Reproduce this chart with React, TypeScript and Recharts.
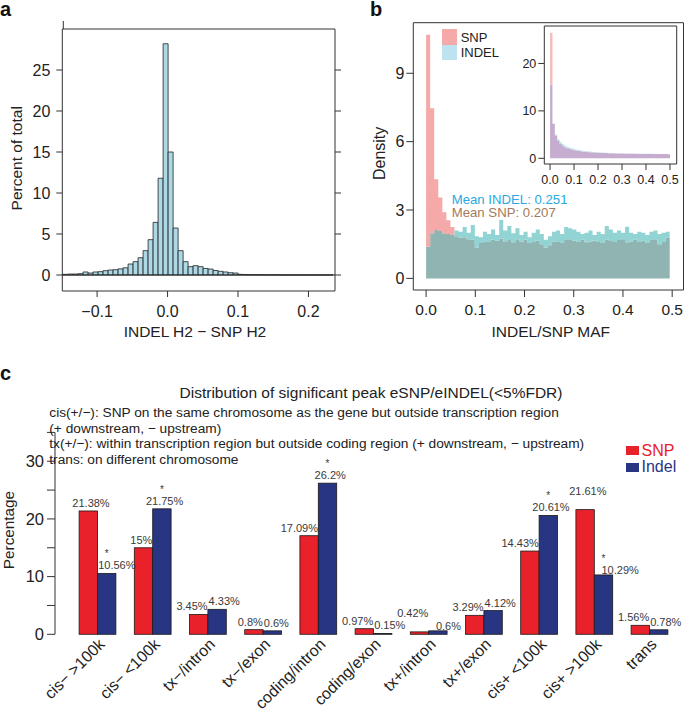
import React from 'react';
import { BarChart, Bar, XAxis, YAxis, ReferenceLine, ReferenceArea, AreaChart, Area, Legend } from 'recharts';

const FONT = '"Liberation Sans", Arial, Helvetica, sans-serif';

// ---------- Panel a: INDEL H2 - SNP H2 histogram ----------
const H2_BIN_WIDTH = 0.0071;
const H2_FIRST_EDGE = -0.1554;
const h2DiffPercent = [
  0.08, 0.08, 0.12, 0.12, 0.16, 0.37, 0.24, 0.37, 0.41, 0.53, 0.61, 0.65, 0.75, 0.88, 1.34, 1.63, 2.11, 2.97, 4.31, 6.42, 11.8,
  28.2, 15.0, 5.73, 2.97, 1.63, 1.02, 1.14, 1.02, 0.8, 0.73, 0.55, 0.45, 0.37, 0.28, 0.24, 0.08, 0.05, 0.04, 0.03, 0.03,
  0.02, 0.02, 0.02, 0.02, 0.01, 0.01, 0.02, 0.01, 0.01, 0.01, 0.01, 0.02, 0.01, 0.01,
];
const h2Ticks = [-0.1, 0, 0.1, 0.2];
const pctTicks = [0, 5, 10, 15, 20, 25];

// ---------- Panel b: MAF densities ----------
const MAF_BIN_WIDTH = 0.00825;
const snpMafDensity = [
  10.69, 7.47, 4.35, 3.55, 2.9, 2.55, 2.25, 1.85, 1.78, 1.8, 1.72, 1.7, 1.35, 1.55, 1.62, 1.6, 1.7, 1.65, 1.75, 1.6,
  1.68, 1.58, 1.72, 1.62, 1.7, 1.55, 1.6, 1.66, 1.5, 1.35, 1.45, 1.62, 1.6, 1.55, 1.68, 1.72, 1.65, 1.6, 1.7, 1.58,
  1.62, 1.66, 1.6, 1.55, 1.7, 1.64, 1.6, 1.68, 1.72, 1.58, 1.62, 1.7, 1.6, 1.65, 1.55, 1.68, 1.72, 1.5, 1.6, 1.78,
];
const indelMafDensity = [
  1.39, 1.98, 2.12, 2.08, 1.98, 1.95, 1.9, 2.1, 2.05, 2.25, 2.0, 2.34, 1.85, 1.8, 2.05, 1.95, 2.15, 1.9, 2.56, 2.1,
  2.3, 1.98, 2.2, 1.9, 2.05, 1.8, 2.0, 2.15, 1.95, 1.7, 1.85, 2.05, 2.1, 1.95, 2.25, 2.2, 2.15, 2.05, 1.95, 2.0,
  2.1, 1.9, 2.05, 1.95, 2.3, 2.15, 2.0, 2.1, 2.0, 2.27, 2.0, 1.95, 2.05, 2.0, 1.9, 2.05, 2.1, 1.95, 2.0, 2.05,
];
const mafTicks = [0, 0.1, 0.2, 0.3, 0.4, 0.5];
const densityTicks = [0, 3, 6, 9];
const meanIndelMaf = 0.251;
const meanSnpMaf = 0.207;

const INSET_BIN_WIDTH = 0.01;
const snpMafInset = [
  26.5, 7.3, 4.8, 3.7, 3.0, 2.6, 2.3, 2.1, 1.95, 1.8, 1.7, 1.6, 1.52, 1.45, 1.4, 1.35, 1.3, 1.26, 1.22, 1.2,
  1.17, 1.14, 1.12, 1.1, 1.08, 1.06, 1.05, 1.03, 1.02, 1.0, 0.99, 0.98, 0.97, 0.96, 0.95, 0.95, 0.94, 0.93, 0.93, 0.92,
  0.92, 0.91, 0.91, 0.9, 0.9, 0.9, 0.89, 0.89, 0.89, 0.88,
];
const indelMafInset = [
  15.5, 7.3, 5.0, 4.0, 3.4, 2.95, 2.65, 2.4, 2.2, 2.05, 1.92, 1.8, 1.7, 1.62, 1.55, 1.49, 1.43, 1.38, 1.33, 1.29,
  1.25, 1.22, 1.19, 1.16, 1.14, 1.12, 1.1, 1.08, 1.06, 1.05, 1.03, 1.02, 1.01, 1.0, 0.99, 0.98, 0.97, 0.96, 0.96, 0.95,
  0.95, 0.94, 0.94, 0.93, 0.93, 0.93, 0.92, 0.92, 0.92, 0.91,
];
const insetYTicks = [0, 10, 20];

// ---------- Panel c: eSNP / eINDEL distribution ----------
const regions = [
  'cis− >100k', 'cis− <100k', 'tx−/intron', 'tx−/exon', 'coding/intron', 'coding/exon',
  'tx+/intron', 'tx+/exon', 'cis+ <100k', 'cis+ >100k', 'trans',
];
const snpPct = [21.38, 15, 3.45, 0.8, 17.09, 0.97, 0.42, 3.29, 14.43, 21.61, 1.56];
const indelPct = [10.56, 21.75, 4.33, 0.6, 26.2, 0.15, 0.6, 4.12, 20.61, 10.29, 0.78];
const indelSignificant = [true, true, false, false, true, false, false, false, true, true, false];
const percentTicks = [0, 5, 10, 15, 20, 25, 30, 35];
const seriesC = ['SNP', 'Indel'];
const titleC = 'Distribution of significant peak eSNP/eINDEL(<5%FDR)';
const notesC = [
  'cis(+/−): SNP on the same chromosome as the gene but outside transcription region',
  '(+ downstream, − upstream)',
  'tx(+/−): within transcription region but outside coding region (+ downstream, − upstream)',
  'trans: on different chromosome',
];

// ---------- colours ----------
const AXIS = '#333333';
const C_HIST_A = '#ADD8E6';
const C_SNP_ONLY = '#F5A9A9';
const C_INDEL_ONLY = '#92D3D4';
const C_SHARED = '#8FB4B1';
const C_IN_SNP = '#F8BABA';
const C_IN_INDEL = '#BFE2EF';
const C_IN_SHARED = '#C6ADCF';
const C_RED = '#E8212A';
const C_BLUE = '#283583';

// ---------- layout of panel c ----------
const C_W = 685;
const C_MARGIN = { top: 87.4, right: 7.7, bottom: 17.7, left: 0 };
const C_YAXIS_W = 55;
const C_PAD_LEFT = 15.1;
const C_BAND = (C_W - C_MARGIN.right - C_YAXIS_W - C_PAD_LEFT) / regions.length;
const LABEL_FS = 11;

// ---------- derived tables ----------
const histA = h2DiffPercent.map((v, i) => ({ x: H2_FIRST_EDGE + H2_BIN_WIDTH * (i + 0.5), pct: v }));

function overlapRows(snp: number[], indel: number[], w: number) {
  const rows = snp.map((s, k) => {
    const d = indel[k];
    return { x: k * w, shared: Math.min(s, d), snpOnly: Math.max(s - d, 0), indelOnly: Math.max(d - s, 0) };
  });
  rows.push({ ...rows[rows.length - 1], x: snp.length * w });
  return rows;
}
const mafRows = overlapRows(snpMafDensity, indelMafDensity, MAF_BIN_WIDTH);
const insetRows = overlapRows(snpMafInset, indelMafInset, INSET_BIN_WIDTH);

const regionRows = regions.map((r, i) => ({ region: r, snp: snpPct[i], indel: indelPct[i], sig: indelSignificant[i] }));

const fmtDec = (v: number) => (v < 0 ? '−' : '') + Math.abs(v).toFixed(1);
const blank = () => '';

function axisTitle(text: string, opts: { dx?: number; y?: number; rotate?: boolean; size?: number; dy?: number }) {
  return {
    content: (p: any) => {
      const vb = p.viewBox || {};
      if (opts.rotate) {
        const x = vb.x + (opts.dx || 0);
        const y = vb.y + vb.height / 2 + (opts.dy || 0);
        return (
          <text x={x} y={y} transform={`rotate(-90, ${x}, ${y})`} textAnchor="middle" dominantBaseline="central"
            fontSize={opts.size || 16} fontFamily={FONT} fill="#222">{text}</text>
        );
      }
      const x = vb.x + vb.width / 2 + (opts.dx || 0);
      const y = vb.y + (opts.y || 0);
      return (
        <text x={x} y={y} textAnchor="middle" fontSize={opts.size || 16} fontFamily={FONT} fill="#222">{text}</text>
      );
    },
  };
}

// ---------- Panel a ----------
function PanelA() {
  const xDom: [number, number] = [-0.1494, 0.2377];
  const yDom: [number, number] = [-1.95, 30];
  const tickStyle = { fill: '#222', fontSize: 16, fontFamily: FONT };
  return (
    <div style={{ position: 'absolute', left: 0, top: 0 }}>
      <BarChart width={345} height={345} data={histA} margin={{ top: 19, right: 2, bottom: 14, left: 0 }}
        barCategoryGap={0} barGap={0}>
        <XAxis xAxisId="b" dataKey="x" type="number" domain={xDom} allowDataOverflow ticks={h2Ticks}
          tickFormatter={fmtDec} height={40} tickSize={6} tickMargin={9} stroke={AXIS} tick={tickStyle}
          label={axisTitle('INDEL H2 − SNP H2', { dx: -3.7, y: 45.5, size: 15.5 })} />
        <XAxis xAxisId="t" orientation="top" type="number" domain={xDom} allowDataOverflow ticks={h2Ticks}
          tickFormatter={blank} height={10} tickSize={8} stroke={AXIS} />
        <YAxis yAxisId="l" type="number" domain={yDom} allowDataOverflow ticks={pctTicks} width={62.3}
          tickSize={6} tickMargin={6} stroke={AXIS} tick={tickStyle}
          label={axisTitle('Percent of total', { rotate: true, dx: 17, dy: -1.7, size: 15.5 })} />
        <YAxis yAxisId="r" orientation="right" type="number" domain={yDom} allowDataOverflow ticks={pctTicks}
          width={8} tickSize={6} tickFormatter={blank} stroke={AXIS} />
        <Bar xAxisId="b" yAxisId="l" dataKey="pct" fill={C_HIST_A} stroke="#222" strokeWidth={0.8}
          isAnimationActive={false} />
        <ReferenceLine xAxisId="b" yAxisId="l" y={0} stroke="#222" strokeWidth={1} />
      </BarChart>
    </div>
  );
}

// ---------- Panel b ----------
function LegendB() {
  const items = [
    { name: 'SNP', color: C_SNP_ONLY },
    { name: 'INDEL', color: '#BDE3F0' },
  ];
  return (
    <div style={{ fontFamily: FONT, fontSize: 13, color: '#222' }}>
      {items.map((it) => (
        <div key={it.name} style={{ display: 'flex', alignItems: 'center', height: 15.5 }}>
          <span style={{ display: 'inline-block', width: 15, height: 15.5, background: it.color, marginRight: 4 }} />
          <span>{it.name}</span>
        </div>
      ))}
    </div>
  );
}

function PanelB() {
  const xDom: [number, number] = [-0.026, 0.523];
  const yDom: [number, number] = [-0.51, 11.22];
  const tickStyle = { fill: '#222', fontSize: 15.5, fontFamily: FONT };
  return (
    <div style={{ position: 'absolute', left: 345, top: 0 }}>
      <AreaChart width={340} height={345} data={mafRows} margin={{ top: 22.7, right: 1.5, bottom: 15, left: 0 }}>
        <XAxis dataKey="x" type="number" domain={xDom} allowDataOverflow ticks={mafTicks} tickFormatter={fmtDec}
          height={40} tickSize={7} tickMargin={7} axisLine={false} stroke={AXIS} tick={tickStyle}
          label={axisTitle('INDEL/SNP MAF', { dx: 2.4, y: 47.2, size: 15.5 })} />
        <YAxis type="number" domain={yDom} allowDataOverflow ticks={densityTicks} width={68.3} tickSize={7}
          tickMargin={2} axisLine={false} stroke={AXIS} tick={{ ...tickStyle, fontSize: 16 }}
          label={axisTitle('Density', { rotate: true, dx: 35, dy: -3, size: 16 })} />
        <Area type="stepAfter" dataKey="shared" stackId="m" fill={C_SHARED} fillOpacity={1} stroke="none"
          isAnimationActive={false} />
        <Area type="stepAfter" dataKey="snpOnly" stackId="m" fill={C_SNP_ONLY} fillOpacity={1} stroke="none"
          isAnimationActive={false} />
        <Area type="stepAfter" dataKey="indelOnly" stackId="m" fill={C_INDEL_ONLY} fillOpacity={1} stroke="none"
          isAnimationActive={false} />
        <ReferenceArea x1={xDom[0]} x2={xDom[1]} y1={yDom[0]} y2={yDom[1]} fill="none" stroke={AXIS}
          strokeWidth={1} ifOverflow="visible" />
        <Legend layout="vertical" align="center" verticalAlign="middle"
          wrapperStyle={{ left: 96.7, top: 29.3, width: 80 }} content={() => <LegendB />} />
      </AreaChart>
    </div>
  );
}

function InsetB() {
  const xDom: [number, number] = [-0.024, 0.528];
  const yDom: [number, number] = [-1.2, 27.9];
  const tickStyle = { fill: '#222', fontSize: 12.5, fontFamily: FONT };
  return (
    <div style={{ position: 'absolute', left: 490, top: 0 }}>
      <AreaChart width={195} height={200} data={insetRows} margin={{ top: 26, right: 8.3, bottom: 6, left: 0 }}>
        <XAxis dataKey="x" type="number" domain={xDom} allowDataOverflow ticks={mafTicks} tickFormatter={fmtDec}
          interval={0} height={30} tickSize={6} tickMargin={5} axisLine={false} stroke={AXIS} tick={tickStyle} />
        <YAxis type="number" domain={yDom} allowDataOverflow ticks={insetYTicks} width={54.3} tickSize={6}
          tickMargin={2} axisLine={false} stroke={AXIS} tick={tickStyle} />
        <ReferenceArea x1={xDom[0]} x2={xDom[1]} y1={yDom[0]} y2={yDom[1]} fill="#fff" stroke={AXIS}
          strokeWidth={1} ifOverflow="visible" />
        <Area type="stepAfter" dataKey="shared" stackId="i" fill={C_IN_SHARED} fillOpacity={1} stroke="none"
          isAnimationActive={false} />
        <Area type="stepAfter" dataKey="snpOnly" stackId="i" fill={C_IN_SNP} fillOpacity={1} stroke="none"
          isAnimationActive={false} />
        <Area type="stepAfter" dataKey="indelOnly" stackId="i" fill={C_IN_INDEL} fillOpacity={1} stroke="none"
          isAnimationActive={false} />
      </AreaChart>
    </div>
  );
}

// ---------- Panel c ----------
function RegionTick(props: any) {
  const { x, y, payload } = props;
  const tx = x + 8;
  const ty = y + 11;
  return (
    <text x={tx} y={ty} transform={`rotate(-45, ${tx}, ${ty})`} textAnchor="end" fontSize={16}
      fontFamily={FONT} fill="#222">{payload.value}</text>
  );
}

function labelWidth(v: number) {
  let w = 0;
  for (const ch of `${v}%`) w += ch === '.' ? 0.278 : ch === '%' ? 0.889 : 0.556;
  return w * LABEL_FS;
}

// where a group's labels go: the taller bar's label is centred over it; otherwise the labels
// are anchored on the group's centre, pushed away from each other.
function labelLayout(i: number, ppu: number, zeroY: number) {
  const snp = snpPct[i];
  const indel = indelPct[i];
  const center = C_YAXIS_W + C_PAD_LEFT + C_BAND * (i + 0.5);
  const half = C_BAND / 3;
  const snpBase = zeroY - snp * ppu - 4;
  const indelBase = zeroY - indel * ppu - 4;
  const red = snp - indel >= 3
    ? { x: center - half / 2 + 2.5, anchor: 'middle', base: snpBase, left: center - half / 2 + 2.5 - labelWidth(snp) / 2 }
    : { x: center - 0.5, anchor: 'end', base: snpBase, left: center - 0.5 - labelWidth(snp) };
  const blue = indel - snp >= 3
    ? { x: center + half / 2 + 2.5, anchor: 'middle', base: indelBase, right: center + half / 2 + 2.5 + labelWidth(indel) / 2 }
    : { x: center + 0.5, anchor: 'start', base: indelBase, right: center + 0.5 + labelWidth(indel) };
  return { red, blue, center, half };
}

function groupLabels(i: number, ppu: number, zeroY: number) {
  const cur = labelLayout(i, ppu, zeroY);
  if (i > 0) {
    const prev = labelLayout(i - 1, ppu, zeroY);
    const clash = cur.red.left < prev.blue.right && Math.abs(cur.red.base - prev.blue.base) < LABEL_FS;
    if (clash) {
      cur.red = { ...cur.red, base: cur.red.base - LABEL_FS };
      cur.blue = { ...cur.blue, x: cur.center + 7, anchor: 'start', base: cur.blue.base + 3.5 };
    }
  }
  return cur;
}

function makeValueBar(series: 'snp' | 'indel') {
  return (props: any) => {
    const { x, y, width, height, payload, fill, index } = props;
    const mine = series === 'snp' ? payload.snp : payload.indel;
    const ppu = mine > 0 ? height / mine : 0;
    const zeroY = y + height;
    const lay = groupLabels(index, ppu, zeroY);
    const lab = series === 'snp' ? lay.red : lay.blue;
    return (
      <g>
        <rect x={x} y={y} width={width} height={Math.max(height, 0)} fill={fill} stroke="#1a1a1a" strokeWidth={0.8} />
        <text x={lab.x} y={lab.base} textAnchor={lab.anchor as any} fontSize={LABEL_FS} fontFamily={FONT}
          fill="#3a3a3a">{`${mine}%`}</text>
        {series === 'indel' && payload.sig ? (
          <text x={x + width / 2} y={lab.base - 12} textAnchor="middle" fontSize={10} fontFamily={FONT} fill="#3a3a3a">*</text>
        ) : null}
      </g>
    );
  };
}

function LegendC(props: any) {
  const payload = [...(props.payload || [])].sort(
    (a: any, b: any) => seriesC.indexOf(a.value) - seriesC.indexOf(b.value),
  );
  return (
    <div style={{ fontFamily: FONT, fontSize: 16 }}>
      {payload.map((p: any) => (
        <div key={p.value} style={{ display: 'flex', alignItems: 'center', height: 16.6, color: p.color }}>
          <span style={{ display: 'inline-block', width: 13, height: 9, background: p.color, marginRight: 3 }} />
          <span>{p.value}</span>
        </div>
      ))}
    </div>
  );
}

function PanelC() {
  return (
    <div style={{ position: 'absolute', left: 0, top: 345 }}>
      <BarChart width={C_W} height={367} data={regionRows} margin={C_MARGIN} barGap={0}>
        <XAxis dataKey="region" type="category" padding={{ left: C_PAD_LEFT, right: 0 }} axisLine={false}
          tickLine={false} interval={0} height={60} tickSize={0} tickMargin={0} tick={<RegionTick />} />
        <YAxis type="number" domain={[0, 35]} ticks={percentTicks} width={C_YAXIS_W} tickSize={8} tickMargin={3}
          stroke={AXIS} tickFormatter={(v: number) => (v % 10 === 0 ? String(v) : '')}
          tick={{ fill: '#222', fontSize: 16.5, fontFamily: FONT }}
          label={axisTitle('Percentage', { rotate: true, dx: 9, dy: -3.3, size: 15.3 })} />
        <Bar dataKey="snp" name={seriesC[0]} fill={C_RED} barSize={C_BAND / 3} isAnimationActive={false}
          shape={makeValueBar('snp')} />
        <Bar dataKey="indel" name={seriesC[1]} fill={C_BLUE} barSize={C_BAND / 3} isAnimationActive={false}
          shape={makeValueBar('indel')} />
        <Legend layout="vertical" align="center" verticalAlign="middle"
          wrapperStyle={{ left: 625.5, top: 97.4, width: 60 }} content={<LegendC />} />
      </BarChart>
    </div>
  );
}

// ---------- overlay text ----------
function Overlay() {
  return (
    <svg width={685} height={712} style={{ position: 'absolute', left: 0, top: 0, pointerEvents: 'none' }}>
      <g fontFamily={FONT} fontWeight="bold" fontSize={20} fill="#111">
        <text x={0} y={16}>a</text>
        <text x={370} y={16}>b</text>
        <text x={0} y={380}>c</text>
      </g>
      <text x={451.7} y={203.7} fontFamily={FONT} fontSize={13.2} fill="#2AA9E0">{`Mean INDEL: ${meanIndelMaf}`}</text>
      <text x={451.7} y={217.3} fontFamily={FONT} fontSize={13.2} fill="#A47A5A">{`Mean SNP: ${meanSnpMaf}`}</text>
      <text x={371} y={397.5} textAnchor="middle" fontFamily={FONT} fontSize={15.5} fill="#222">{titleC}</text>
      {notesC.map((line, i) => (
        <text key={i} x={49.3} y={417 + i * 15.6} fontFamily={FONT} fontSize={13.7} fill="#222">{line}</text>
      ))}
    </svg>
  );
}

export default function App() {
  return (
    <div style={{ position: 'absolute', left: 0, top: 0, width: 685, height: 712, background: '#fff', overflow: 'hidden' }}>
      <PanelA />
      <PanelB />
      <InsetB />
      <PanelC />
      <Overlay />
    </div>
  );
}
